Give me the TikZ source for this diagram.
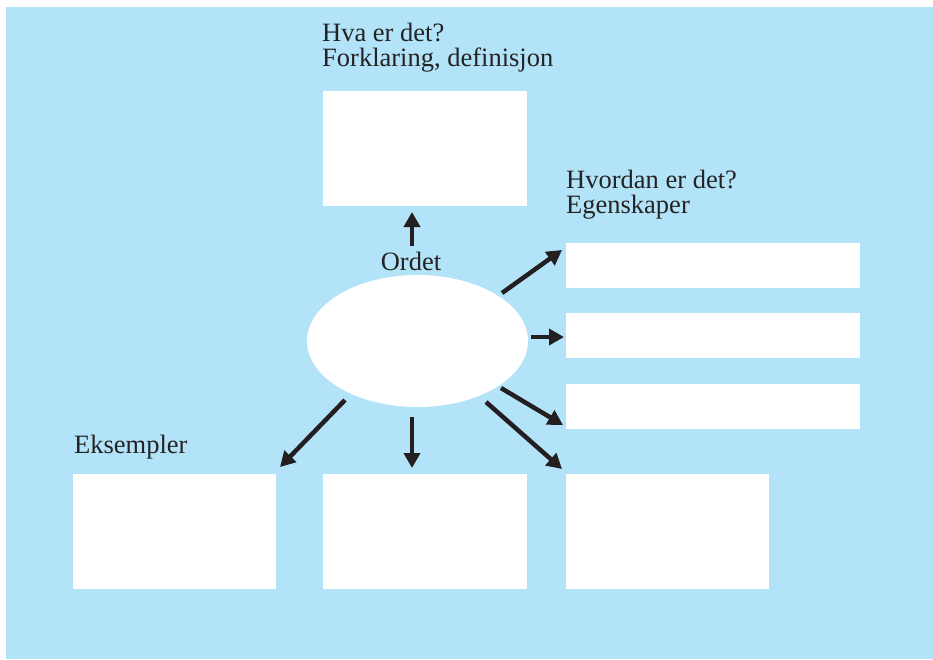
\documentclass[tikz,border=0pt]{standalone}
\usepackage{fontspec}
\setmainfont{Liberation Serif}
\usetikzlibrary{arrows.meta}
\definecolor{bgblue}{RGB}{179,227,248}
\definecolor{ink}{RGB}{35,31,32}
\definecolor{txt}{RGB}{35,35,35}
\tikzset{
  box/.style={fill=white, draw=none},
  lbl/.style={anchor=base west, inner sep=0pt, text=txt, align=left, font=\fontsize{26.5}{25.5}\selectfont},
  arr/.style={draw=ink, line width=4.5pt, -{Triangle[length=15pt,width=16pt]}},
}
\begin{document}
\begin{tikzpicture}[x=1pt,y=-1pt]
\useasboundingbox (0,0) rectangle (933,659);
\fill[bgblue] (6,7) rectangle (933,659);
% boxes
\fill[box] (323,91) rectangle (527,206);
\fill[box] (566,243) rectangle (860,288);
\fill[box] (566,313) rectangle (860,358);
\fill[box] (566,384) rectangle (860,429);
\fill[box] (73,474) rectangle (276,589);
\fill[box] (323,474) rectangle (527,589);
\fill[box] (566,474) rectangle (769,589);
% ellipse
\fill[white] (417.5,341) ellipse [x radius=110.5, y radius=66];
% labels (anchored at the baseline of the last line)
\node[lbl] (hva) at (322,66.5) {Hva er det?\\Forklaring, definisjon};
\node[lbl] (hv) at (566,213.5) {Hvordan er det?\\Egenskaper};
\node[lbl] (eks) at (74,453) {Eksempler};
\node[lbl, anchor=base] (ordet) at (411,270.5) {Ordet};
% arrow coordinates
\coordinate (uA) at (412,246); \coordinate (uB) at (412,212);
\coordinate (r1A) at (502,293); \coordinate (r1B) at (562,250);
\coordinate (r2A) at (531,337); \coordinate (r2B) at (564,337);
\coordinate (r3A) at (501,388); \coordinate (r3B) at (563,425);
\coordinate (r4A) at (486,402); \coordinate (r4B) at (562,469);
\coordinate (dlA) at (345,400); \coordinate (dlB) at (280,467);
\coordinate (dA) at (412,417); \coordinate (dB) at (412,468);
\draw[arr] (uA) -- (uB);
\draw[arr] (r1A) -- (r1B);
\draw[arr] (r2A) -- (r2B);
\draw[arr] (r3A) -- (r3B);
\draw[arr] (r4A) -- (r4B);
\draw[arr] (dlA) -- (dlB);
\draw[arr] (dA) -- (dB);
\end{tikzpicture}
\end{document}
